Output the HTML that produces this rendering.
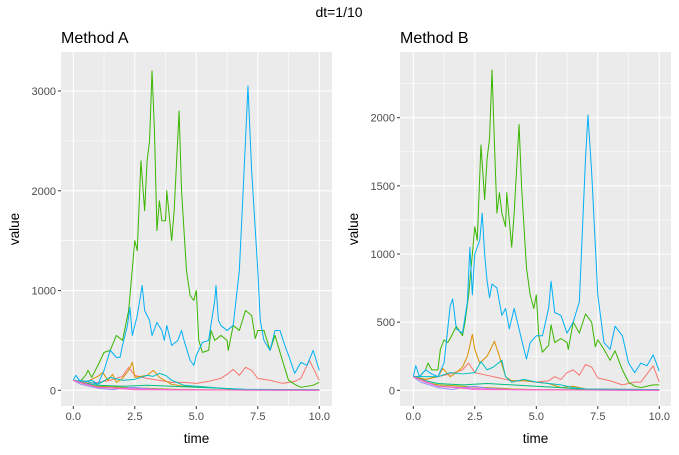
<!DOCTYPE html>
<html><head><meta charset="utf-8"><style>
body{margin:0;background:#fff;width:679px;height:450px;overflow:hidden;font-family:"Liberation Sans",Arial,sans-serif}
svg text{font-family:"Liberation Sans",Arial,sans-serif}
</style></head><body>
<svg id="chart" width="679" height="450" xmlns="http://www.w3.org/2000/svg">
<text x="339" y="17" text-anchor="middle" font-size="14" fill="#000">dt=1/10</text>
</svg>
<script>
// ---- data (time keypoints / values) ----
const colors=["#F8766D","#D89000","#A3A500","#39B600","#00BF7D","#00BFC4","#00B0F6","#9590FF","#E76BF3","#FF62BC"];
const seriesNames=["s1","s2","s3","s4","s5","s6","s7","s8","s9","s10"];
const xTicks=[0,2.5,5,7.5,10];
const xTickLabels=["0.0","2.5","5.0","7.5","10.0"];
const xMinor=[1.25,3.75,6.25,8.75];
const yTicksA=[0,1000,2000,3000];
const yMinorA=[500,1500,2500];
const yTicksB=[0,500,1000,1500,2000];
const yMinorB=[250,750,1250,1750,2250];

const A_red=[[0,100],[0.5,70],[1,80],[1.5,100],[2,140],[2.25,230],[2.5,150],[3,120],[3.5,100],[4,80],[4.5,80],[5,70],[5.5,90],[6,120],[6.25,160],[6.5,210],[6.75,150],[7,230],[7.25,200],[7.5,120],[8,100],[8.5,70],[9,90],[9.25,120],[9.5,250],[9.6,300],[10,100]];
const A_orange=[[0,100],[0.5,80],[1,140],[1.2,180],[1.4,100],[1.6,160],[1.75,80],[2,120],[2.25,200],[2.4,280],[2.5,130],[3,150],[3.25,200],[3.5,130],[4,60],[4.5,40],[5,40],[5.5,30],[6,20],[6.5,10],[7,5],[10,5]];
const A_olive=[[0,100],[0.5,60],[1,40],[2,30],[3,20],[4,10],[5,5],[10,3]];
const A_green=[[0,100],[0.25,80],[0.5,150],[0.6,200],[0.75,130],[1,250],[1.25,380],[1.5,400],[1.75,550],[2,500],[2.25,800],[2.5,1500],[2.6,1400],[2.75,2300],[2.9,1800],[3,2300],[3.1,2500],[3.2,3200],[3.3,2600],[3.4,1600],[3.5,1900],[3.6,1700],[3.75,1700],[3.8,2000],[4,1500],[4.1,1800],[4.3,2800],[4.4,2000],[4.6,1200],[4.75,950],[4.9,900],[5,1000],[5.1,500],[5.25,380],[5.5,400],[5.6,600],[5.75,500],[6,550],[6.25,500],[6.3,400],[6.5,650],[6.75,600],[7,800],[7.25,750],[7.4,520],[7.5,600],[7.75,600],[8,400],[8.2,550],[8.5,300],[8.75,100],[9,60],[9.25,30],[9.5,40],[9.75,50],[10,80]];
const A_tgreen=[[0,100],[0.5,70],[1,50],[2,40],[3,50],[4,40],[5,30],[6,20],[7,5],[10,5]];
const A_teal=[[0,100],[0.5,90],[1,60],[1.5,130],[2,100],[2.5,110],[3,150],[3.25,140],[3.5,170],[3.75,150],[4,100],[4.5,50],[5,40],[6,20],[7,10],[10,5]];
const A_blue=[[0,100],[0.1,150],[0.25,100],[0.5,90],[0.75,100],[1,60],[1.25,200],[1.5,400],[1.75,330],[1.9,330],[2,450],[2.2,650],[2.3,830],[2.4,550],[2.5,650],[2.6,750],[2.8,1050],[2.9,800],[3,750],[3.1,700],[3.2,550],[3.4,680],[3.6,600],[3.7,500],[3.8,650],[4,450],[4.25,500],[4.4,600],[4.5,500],[4.75,300],[4.9,250],[5,350],[5.25,480],[5.5,500],[5.75,900],[5.8,1050],[5.9,700],[6,650],[6.25,600],[6.5,650],[6.75,1200],[7,2500],[7.1,3050],[7.25,2200],[7.5,1200],[7.6,700],[7.75,500],[8,400],[8.2,600],[8.4,600],[8.6,450],[8.75,350],[9,170],[9.25,280],[9.5,250],[9.75,400],[10,200]];
const A_purple=[[0,100],[0.3,60],[1,20],[1.6,5],[2,20],[2.5,30],[3,15],[4,5],[10,0]];
const A_magenta=[[0,100],[1,30],[2,20],[3,10],[4,5],[10,0]];
const A_pink=[[0,100],[0.5,60],[1,30],[2,15],[2.5,5],[10,0]];

const B_red=[[0,100],[0.5,80],[1,100],[1.5,120],[2,150],[2.25,200],[2.5,130],[3,110],[3.5,90],[4,70],[4.5,70],[5,60],[5.5,70],[5.75,100],[6,80],[6.25,130],[6.5,150],[6.75,110],[7,190],[7.25,170],[7.5,90],[8,70],[8.5,40],[9,60],[9.25,60],[9.5,120],[9.75,180],[10,60]];
const B_orange=[[0,100],[0.5,80],[1,100],[1.2,160],[1.5,100],[1.75,130],[2,170],[2.2,250],[2.4,410],[2.5,300],[2.7,200],[3,250],[3.3,360],[3.5,250],[3.75,100],[4,70],[4.5,70],[5,60],[5.5,50],[6,20],[6.5,30],[7,10],[10,5]];
const B_olive=[[0,100],[0.5,60],[1,40],[2,30],[3,20],[4,10],[5,5],[10,3]];
const B_green=[[0,100],[0.25,100],[0.5,150],[0.6,200],[0.75,150],[1,150],[1.1,300],[1.25,370],[1.4,350],[1.5,380],[1.75,470],[2,400],[2.1,500],[2.25,700],[2.4,1000],[2.5,1200],[2.6,1100],[2.75,1800],[2.9,1400],[3,1700],[3.1,1850],[3.2,2350],[3.3,1800],[3.4,1300],[3.5,1450],[3.6,1300],[3.75,1200],[3.8,1450],[4,1050],[4.1,1300],[4.3,1950],[4.4,1500],[4.6,900],[4.75,700],[4.9,600],[5,700],[5.1,400],[5.25,280],[5.5,330],[5.6,480],[5.75,350],[6,380],[6.25,350],[6.3,300],[6.5,500],[6.75,420],[7,560],[7.25,500],[7.4,320],[7.5,370],[7.75,300],[8,220],[8.2,290],[8.5,150],[8.75,60],[9,30],[9.25,20],[9.5,30],[9.75,40],[10,40]];
const B_tgreen=[[0,100],[0.5,70],[1,50],[2,40],[3,50],[4,40],[5,30],[6,20],[7,5],[10,5]];
const B_teal=[[0,100],[0.5,100],[1,100],[1.5,130],[2,120],[2.5,130],[2.75,210],[3,150],[3.25,170],[3.6,220],[3.75,100],[4,60],[4.5,80],[5,60],[5.5,50],[6,40],[6.5,20],[7,10],[10,5]];
const B_blue=[[0,100],[0.1,180],[0.25,100],[0.5,150],[0.75,120],[1,100],[1.25,200],[1.5,620],[1.6,670],[1.75,450],[2,420],[2.2,650],[2.3,1050],[2.4,700],[2.5,1000],[2.7,1100],[2.8,1300],[2.9,1000],[3,800],[3.1,680],[3.2,780],[3.4,750],[3.6,550],[3.75,600],[3.9,450],[4.1,600],[4.3,450],[4.5,300],[4.6,230],[4.75,350],[5,400],[5.25,400],[5.5,600],[5.6,800],[5.75,570],[6,550],[6.25,420],[6.5,500],[6.75,650],[7,1700],[7.1,2020],[7.25,1600],[7.5,700],[7.75,350],[8,300],[8.2,470],[8.5,400],[8.75,200],[9,130],[9.25,200],[9.5,180],[9.75,260],[10,140]];
const B_purple=[[0,100],[0.3,60],[1,20],[1.6,5],[2,20],[2.5,30],[3,15],[4,5],[10,0]];
const B_magenta=[[0,100],[1,30],[2,20],[3,10],[4,5],[10,0]];
const B_pink=[[0,100],[0.5,60],[1,30],[2,15],[2.5,5],[10,0]];

const seriesA=[A_red,A_orange,A_olive,A_green,A_tgreen,A_teal,A_blue,A_purple,A_magenta,A_pink];
const seriesB=[B_red,B_orange,B_olive,B_green,B_tgreen,B_teal,B_blue,B_purple,B_magenta,B_pink];

const NS="http://www.w3.org/2000/svg";
const svg=document.getElementById('chart');
function mk(tag,attrs,parent){const e=document.createElementNS(NS,tag);for(const k in attrs)e.setAttribute(k,attrs[k]);(parent||svg).appendChild(e);return e;}

function panel(id,title,L,R,T,B,x0px,x10px,y0px,yPerUnit,yTicks,yMinor,series){
  const g=mk('g',{});
  
  
  const xs=v=>x0px+(x10px-x0px)*v/10;
  const ys=v=>y0px-v*yPerUnit;
  const bg=mk('rect',{x:L,y:T,width:R-L,height:B-T,fill:'#EBEBEB'},g);
  
  
  yMinor.forEach(v=>{const y=ys(v);if(y>T&&y<B)mk('line',{x1:L,x2:R,y1:y,y2:y,stroke:'#fff','stroke-width':0.6},g);});
  xMinor.forEach(v=>{const x=xs(v);mk('line',{x1:x,x2:x,y1:T,y2:B,stroke:'#fff','stroke-width':0.6},g);});
  yTicks.forEach(v=>{const y=ys(v);
    const gl=mk('line',{x1:L,x2:R,y1:y,y2:y,stroke:'#fff','stroke-width':1.1},g);
    
    
    mk('line',{x1:L-3,x2:L,y1:y,y2:y,stroke:'#333','stroke-width':1},g);
    const t=mk('text',{x:L-5,y:y+4,'text-anchor':'end','font-size':11,fill:'#4D4D4D'},g);t.textContent=String(v);
    
    
  });
  xTicks.forEach((v,i)=>{const x=xs(v);
    const gl=mk('line',{x1:x,x2:x,y1:T,y2:B,stroke:'#fff','stroke-width':1.1},g);
    
    
    mk('line',{x1:x,x2:x,y1:B,y2:B+3,stroke:'#333','stroke-width':1},g);
    const t=mk('text',{x:x,y:B+14,'text-anchor':'middle','font-size':11,fill:'#4D4D4D'},g);t.textContent=xTickLabels[i];
    
    
  });
  series.forEach((s,i)=>{
    const pts=s.map(p=>xs(p[0]).toFixed(2)+','+ys(p[1]).toFixed(2)).join(' ');
    const pl=mk('polyline',{points:pts,fill:'none',stroke:colors[i],'stroke-width':1,'stroke-linejoin':'round'},g);
    
    
  });
  const tt=mk('text',{x:L,y:T-9,'font-size':16,fill:'#000'},g);tt.textContent=title;
  
  
  const xt=mk('text',{x:(L+R)/2,y:443,'text-anchor':'middle','font-size':13.5,fill:'#000'},g);xt.textContent='time';
  
  
  const yx=L-42,yy=(T+B)/2;
  const yt=mk('text',{x:yx,y:yy,'text-anchor':'middle','font-size':13.5,fill:'#000',transform:`rotate(-90 ${yx} ${yy})`},g);yt.textContent='value';
  
  
}
panel('panel-method-a','Method A',61,332,52,406,73.3,319.3,390.3,299.3/3000,yTicksA,yMinorA,seriesA);
panel('panel-method-b','Method B',400,671,52,406,413.3,659.3,390.3,272.6/2000,yTicksB,yMinorB,seriesB);
</script>
</body></html>
